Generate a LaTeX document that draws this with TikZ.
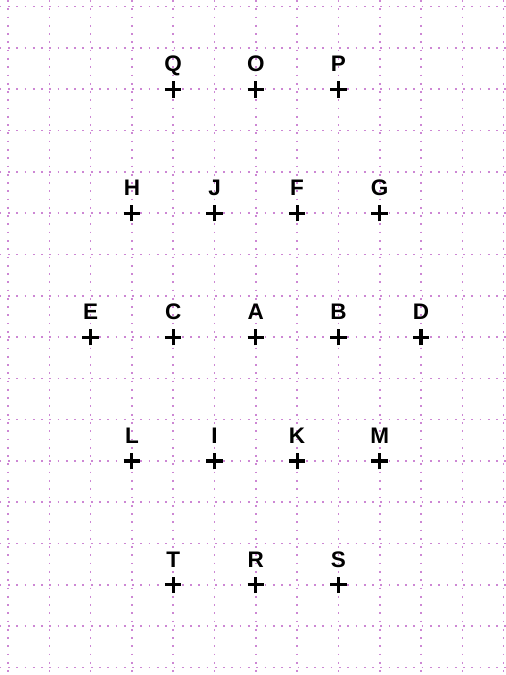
\documentclass[tikz,border=0pt]{standalone}
\usepackage{fontspec}
\setmainfont{Liberation Sans}
\definecolor{gridc}{RGB}{205,135,212}
\tikzset{
  gridline/.style={draw=gridc, line width=1.1pt, dash pattern=on 1.2pt off 4.5pt},
  crossmark/.style={line width=2.1pt, black},
  lab/.style={font=\fontsize{15.5}{15.5}\selectfont\bfseries, anchor=base, inner sep=0pt},
  pics/plusmark/.style={code={\draw[crossmark] (-0.2,0) -- (0.2,0) (0,-0.2) -- (0,0.2);}}
}
\begin{document}
\begin{tikzpicture}[x=1cm,y=1cm]
\useasboundingbox (0,0) rectangle (12.228,-16.344);
\begin{scope}[shift={(0.194,-0.162)}]
  \foreach \k in {0,...,12} \draw[gridline] (\k,0.16) -- (\k,-16.2);
  \foreach \j in {0,...,16} \draw[gridline] (-0.2,-\j) -- (12.05,-\j);
  \foreach \name/\k/\j in {Q/4/2,O/6/2,P/8/2,
                           H/3/5,J/5/5,F/7/5,G/9/5,
                           E/2/8,C/4/8,A/6/8,B/8/8,D/10/8,
                           L/3/11,I/5/11,K/7/11,M/9/11,
                           T/4/14,R/6/14,S/8/14}{
    \coordinate (\name) at (\k,-\j);
    \pic at (\name) {plusmark};
    \node[lab] (\name l) at ([yshift=0.42cm]\name) {\name};
  }
\end{scope}
\end{tikzpicture}
\end{document}
